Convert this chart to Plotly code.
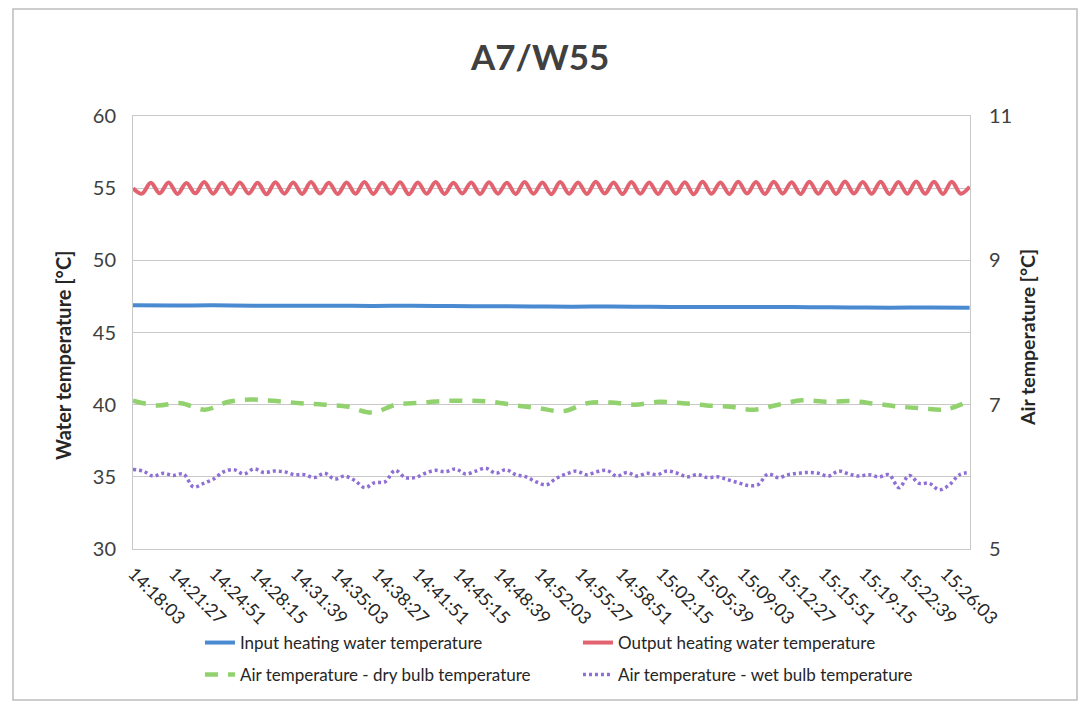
import pandas as pd
import plotly.graph_objects as go

DAY = "2020-01-01 "
TICK_LABELS = ["14:18:03", "14:21:27", "14:24:51", "14:28:15", "14:31:39", "14:35:03",
               "14:38:27", "14:41:51", "14:45:15", "14:48:39", "14:52:03", "14:55:27",
               "14:58:51", "15:02:15", "15:05:39", "15:09:03", "15:12:27", "15:15:51",
               "15:19:15", "15:22:39", "15:26:03"]
DATA_START = "14:18:01"
DATA_END = "15:28:03"
AXIS_START = "14:18:01"
AXIS_END = "15:28:05"

INPUT_WATER = [46.88, 46.87, 46.88, 46.86, 46.85, 46.86, 46.84, 46.85, 46.83, 46.82, 46.81,
               46.79, 46.80, 46.78, 46.77, 46.76, 46.77, 46.75, 46.74, 46.72, 46.73, 46.71]

OUTPUT_WATER = [55.00, 54.62, 55.38, 54.65, 55.40, 54.60, 55.36, 54.64, 55.42, 54.62,
                55.37, 54.60, 55.40, 54.63, 55.38, 54.58, 55.41, 54.62, 55.39, 54.60,
                55.42, 54.63, 55.38, 54.59, 55.40, 54.61, 55.43, 54.60, 55.37, 54.62,
                55.41, 54.58, 55.39, 54.61, 55.42, 54.60, 55.38, 54.63, 55.40, 54.59,
                55.41, 54.62, 55.38, 54.60, 55.43, 54.61, 55.39, 54.58, 55.42, 54.62,
                55.40, 54.60, 55.44, 54.63, 55.39, 54.59, 55.42, 54.61, 55.40, 54.60,
                55.43, 54.62, 55.41, 54.58, 55.44, 54.61, 55.40, 54.60, 55.45, 54.63,
                55.42, 54.60, 55.44, 54.62, 55.41, 54.59, 55.45, 54.61, 55.43, 54.60,
                55.46, 54.63, 55.42, 54.61, 55.45, 54.60, 55.43, 54.62, 55.46, 54.61,
                55.44, 54.60, 55.45, 54.62, 55.10]

DRY_BULB = [7.055, 6.99, 7.02, 6.93, 7.04, 7.07, 7.05, 7.02, 7.00, 6.97, 6.89, 7.00,
            7.025, 7.05, 7.055, 7.04, 6.99, 6.95, 6.91, 7.02, 7.03, 7.00, 7.04, 7.02,
            6.99, 6.97, 6.93, 7.00, 7.06, 7.04, 7.05, 7.015, 6.975, 6.95, 6.935, 7.055]

WET_BULB = [6.10, 6.08, 6.01, 6.05, 6.02, 6.04, 5.86, 5.91, 5.97, 6.07, 6.10, 6.04,
            6.11, 6.06, 6.08, 6.07, 6.03, 6.03, 5.99, 6.05, 5.97, 6.01, 5.95, 5.85,
            5.92, 5.93, 6.09, 5.99, 5.99, 6.05, 6.09, 6.07, 6.11, 6.04, 6.08, 6.12,
            6.05, 6.10, 6.03, 6.00, 5.93, 5.89, 5.98, 6.04, 6.08, 6.03, 6.07, 6.09,
            6.01, 6.06, 6.01, 6.05, 6.03, 6.08, 6.05, 6.00, 6.03, 5.99, 6.00, 5.96,
            5.92, 5.88, 5.89, 6.04, 5.99, 6.03, 6.05, 6.06, 6.05, 6.01, 6.08, 6.04,
            6.01, 6.03, 6.00, 6.03, 5.85, 6.02, 5.91, 5.91, 5.82, 5.89, 6.03, 6.06]

SERIES_NAMES = ["Input heating water temperature", "Output heating water temperature",
                "Air temperature - dry bulb temperature", "Air temperature - wet bulb temperature"]


def times(n):
    return pd.date_range(DAY + DATA_START, DAY + DATA_END, periods=n)


FONT = "Lato"
GRAY = "#404040"
DARK = "#262626"

fig = go.Figure()
fig.add_trace(go.Scatter(x=times(len(INPUT_WATER)), y=INPUT_WATER, name=SERIES_NAMES[0],
                         legend="legend",
                         mode="lines", line=dict(color="#4A8AD0", width=4, shape="spline")))
fig.add_trace(go.Scatter(x=times(len(OUTPUT_WATER)), y=OUTPUT_WATER, name=SERIES_NAMES[1],
                         legend="legend",
                         mode="lines", line=dict(color="#E2626F", width=4, shape="spline")))
fig.add_trace(go.Scatter(x=times(len(DRY_BULB)), y=DRY_BULB, name=SERIES_NAMES[2], yaxis="y2",
                         legend="legend2",
                         mode="lines", line=dict(color="#92D26E", width=4.5, shape="spline",
                                                 dash="13px,10px")))
fig.add_trace(go.Scatter(x=times(len(WET_BULB)), y=WET_BULB, name=SERIES_NAMES[3], yaxis="y2",
                         legend="legend2",
                         mode="lines", line=dict(color="#8E6FD6", width=3.5, shape="spline",
                                                 dash="3px,3px")))

legend_common = dict(orientation="h", x=0.08, xanchor="left", yanchor="middle",
                     entrywidth=333, entrywidthmode="pixels", font=dict(size=17, color=DARK),
                     traceorder="normal", bgcolor="rgba(0,0,0,0)")

fig.update_layout(
    width=1089, height=706,
    margin=dict(l=133, r=119, t=116, b=157, autoexpand=False),
    paper_bgcolor="white", plot_bgcolor="white",
    font=dict(family=FONT, color=GRAY),
    title=dict(text="<b>A7/W55</b>", x=0.496, xanchor="center", y=0.918, yanchor="middle",
               font=dict(size=35, family=FONT, color=GRAY)),
    xaxis=dict(type="date", range=[DAY + AXIS_START, DAY + AXIS_END], automargin=False,
               tickvals=[DAY + t for t in TICK_LABELS], ticktext=TICK_LABELS,
               tickangle=45, tickfont=dict(size=18, color=DARK), showgrid=False,
               ticklabelstandoff=6,
               showline=True, linecolor="#c8c8c8", linewidth=1, mirror=True, ticks=""),
    yaxis=dict(range=[30, 60], tick0=30, dtick=5, tickfont=dict(size=20, color=GRAY),
               showgrid=True, gridcolor="#c8c8c8", gridwidth=1, zeroline=False, automargin=False,
               showline=True, linecolor="#c8c8c8", linewidth=1, ticks="", ticklabelstandoff=12),
    yaxis2=dict(range=[5, 11], tick0=5, dtick=2, overlaying="y", side="right", automargin=False,
                tickfont=dict(size=20, color=GRAY), showgrid=False, zeroline=False,
                showline=True, linecolor="#c8c8c8", linewidth=1, ticks="", ticklabelstandoff=14),
    legend=dict(legend_common, y=(549 - 643) / 433),
    legend2=dict(legend_common, y=(549 - 675) / 433),
    showlegend=True,
)

fig.add_annotation(text="<b>Water temperature [°C]</b>", xref="paper", yref="paper",
                   x=(63 - 133) / 837, y=(549 - 356) / 433, textangle=-90, showarrow=False,
                   font=dict(size=20, color=DARK, family=FONT), xanchor="center", yanchor="middle")
fig.add_annotation(text="<b>Air temperature [°C]</b>", xref="paper", yref="paper",
                   x=(1027 - 133) / 837, y=(549 - 338) / 433, textangle=-90, showarrow=False,
                   font=dict(size=19.5, color=DARK, family=FONT), xanchor="center", yanchor="middle")

fig.add_shape(type="rect", xref="paper", yref="paper",
              x0=(13 - 133) / 837, x1=(1077 - 133) / 837,
              y0=(549 - 700) / 433, y1=(549 - 9) / 433,
              line=dict(color="#bdbdbd", width=1.5), fillcolor="rgba(0,0,0,0)", layer="below")

fig.write_html("out.html")
